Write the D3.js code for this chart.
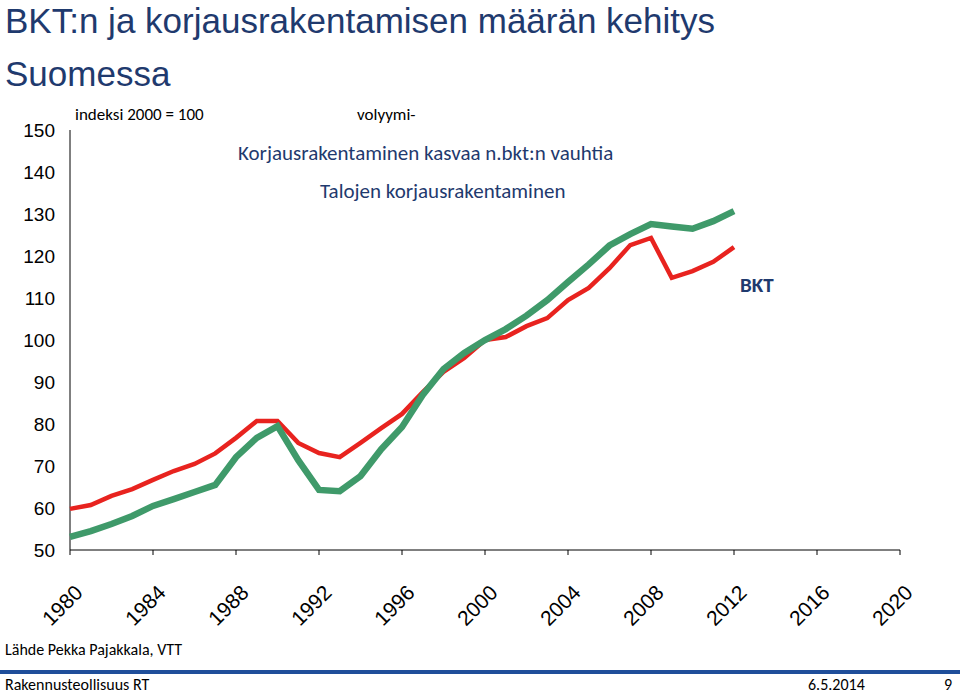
<!DOCTYPE html><html><head><meta charset="utf-8"><script src="https://cdn.jsdelivr.net/npm/d3@7"></script>
<style>body{margin:0;background:#fff;font-family:Calibri,Carlito,"Liberation Sans",sans-serif}</style></head><body><svg id="c" width="960" height="695"></svg>
<script>
const years=d3.range(1980,2013);
const bkt=[59.8,60.7,62.9,64.5,66.7,68.8,70.5,73,76.7,80.7,80.7,75.5,73.1,72.1,75.5,79,82.4,87.6,92.4,95.7,100,100.7,103.3,105.2,109.5,112.4,117.1,122.6,124.3,114.8,116.4,118.6,122.1];
const korj=[53.1,54.5,56.2,58.1,60.5,62.1,63.8,65.5,72.1,76.7,79.5,71.4,64.3,64,67.6,74,79.3,86.9,93.1,96.9,100,102.6,105.8,109.5,113.8,118,122.5,125.2,127.6,127,126.5,128.3,130.7];
const yTicks=[50,60,70,80,90,100,110,120,130,140,150];
const xTicks=[1980,1984,1988,1992,1996,2000,2004,2008,2012,2016,2020];
const svg=d3.select("#c");
const x=d3.scaleLinear([1980,2020],[70,900]);
const y=d3.scaleLinear([50,150],[550,130]);
svg.append("text").attr("x",5).attr("y",33).attr("font-size",35).attr("font-family","Liberation Sans, sans-serif").attr("fill","#1f3a6e").text("BKT:n ja korjausrakentamisen määrän kehitys");
svg.append("text").attr("x",5).attr("y",86).attr("font-size",35).attr("font-family","Liberation Sans, sans-serif").attr("fill","#1f3a6e").text("Suomessa");
svg.append("line").attr("x1",70).attr("x2",70).attr("y1",130).attr("y2",550).attr("stroke","#000");
svg.append("line").attr("x1",70).attr("x2",900).attr("y1",550).attr("y2",550).attr("stroke","#000");
svg.selectAll(".xt").data(xTicks).join("line").attr("x1",d=>x(d)).attr("x2",d=>x(d)).attr("y1",550).attr("y2",555).attr("stroke","#000");
svg.selectAll(".yl").data(yTicks).join("text").attr("x",55).attr("y",d=>y(d)+7).attr("text-anchor","end").attr("font-size",19).attr("font-family","Liberation Sans, sans-serif").text(d=>d);
svg.selectAll(".xl").data(xTicks).join("text").attr("transform",d=>`translate(${x(d)+14},${594}) rotate(-45)`).attr("text-anchor","end").attr("font-size",21).attr("font-family","Liberation Sans, sans-serif").text(d=>d);
const line=d3.line().x((d,i)=>x(years[i])).y(d=>y(d));
svg.append("path").attr("d",line(bkt)).attr("fill","none").attr("stroke","#e8231f").attr("stroke-width",4.5);
svg.append("path").attr("d",line(korj)).attr("fill","none").attr("stroke","#3f9a6a").attr("stroke-width",6.5);
svg.append("text").attr("x",75).attr("y",120).attr("font-size",17).text("indeksi 2000 = 100");
svg.append("text").attr("x",357).attr("y",120).attr("font-size",17).text("volyymi-");
svg.append("text").attr("x",238).attr("y",160).attr("font-size",21).attr("fill","#1f3a6e").text("Korjausrakentaminen kasvaa n.bkt:n vauhtia");
svg.append("text").attr("x",320).attr("y",198).attr("font-size",21).attr("fill","#1f3a6e").text("Talojen korjausrakentaminen");
svg.append("text").attr("x",740).attr("y",292).attr("font-size",21).attr("font-weight","bold").attr("fill","#1f3a6e").text("BKT");
svg.append("text").attr("x",5).attr("y",655).attr("font-size",16).text("Lähde Pekka Pajakkala, VTT");
svg.append("rect").attr("x",0).attr("y",670).attr("width",960).attr("height",4).attr("fill","#1f4e9a");
svg.append("text").attr("x",5).attr("y",690).attr("font-size",16).text("Rakennusteollisuus RT");
svg.append("text").attr("x",808).attr("y",690).attr("font-size",16).text("6.5.2014");
svg.append("text").attr("x",944).attr("y",690).attr("font-size",16).text("9");
</script></body></html>
